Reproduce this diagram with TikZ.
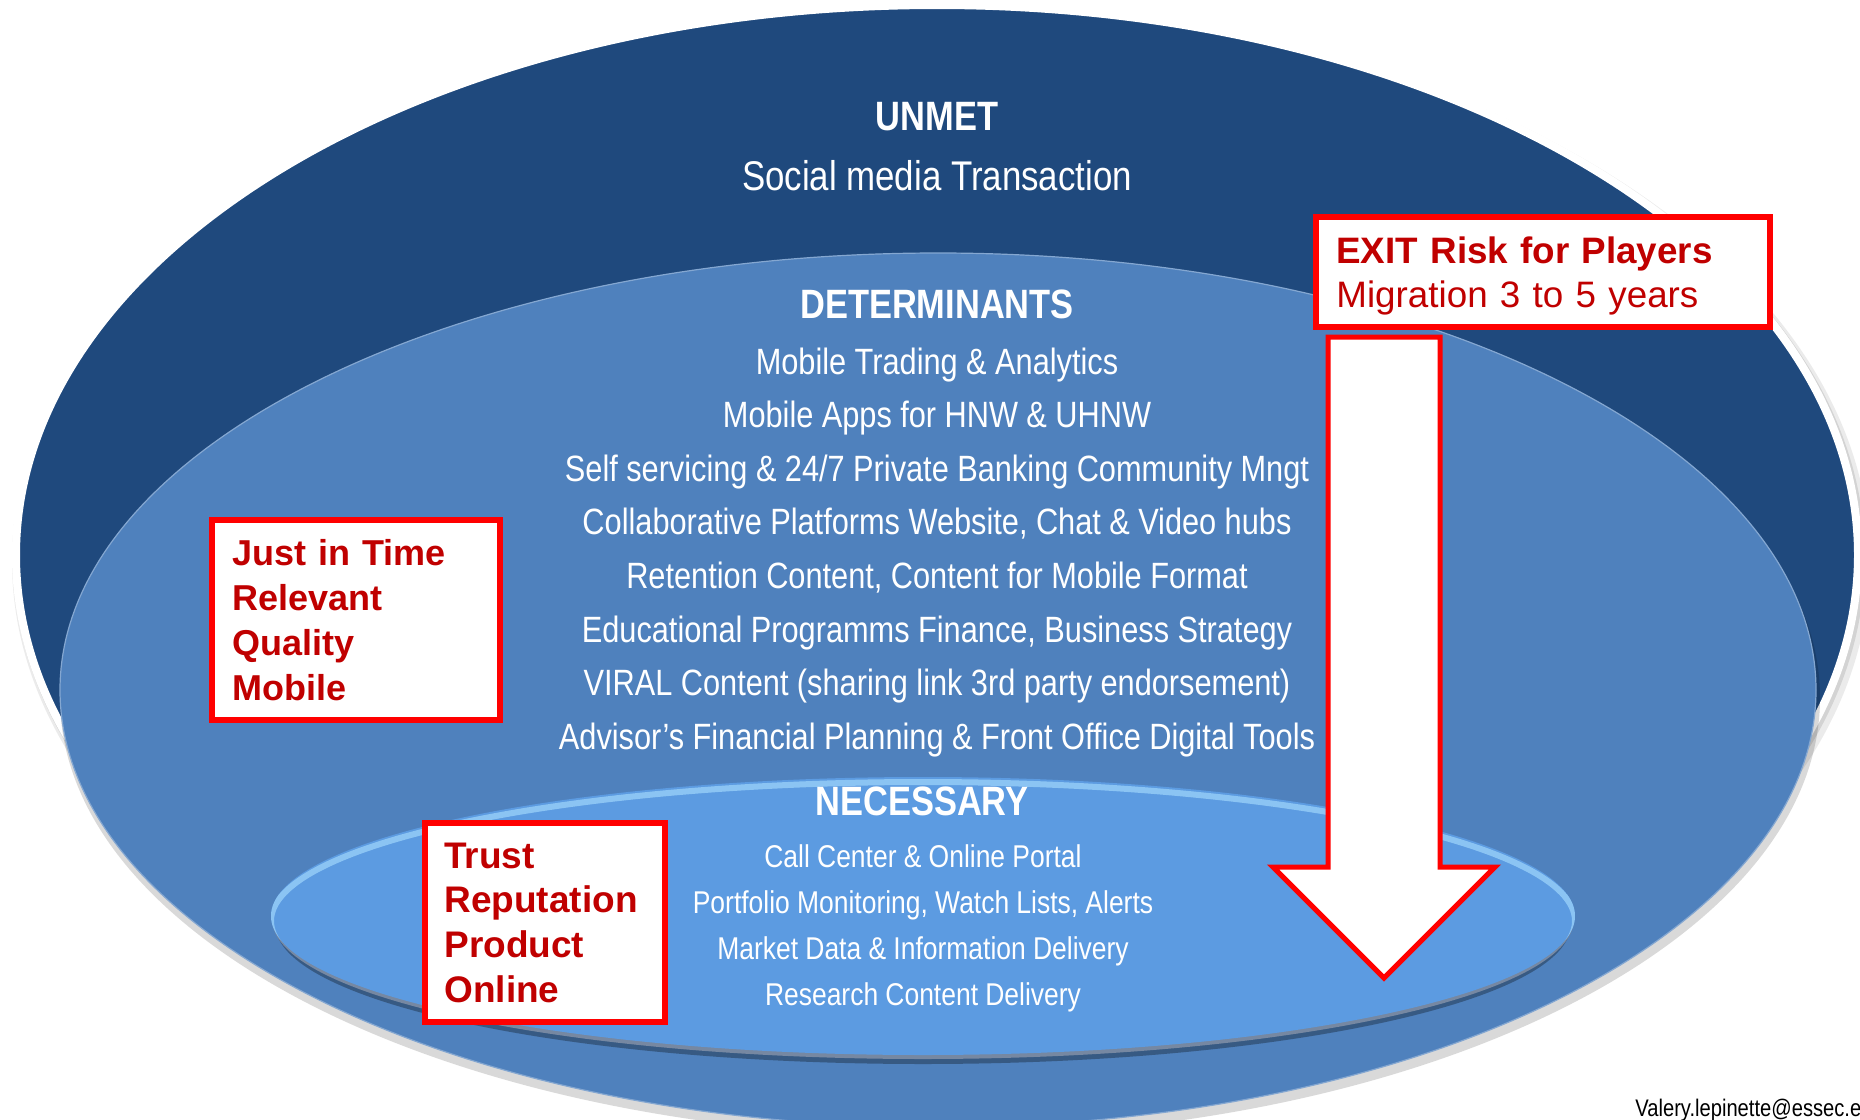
\documentclass[tikz,border=0pt]{standalone}
\usepackage{fontspec}
\setmainfont{Liberation Sans}
\newfontfamily\narrowfont[FakeStretch=0.84]{Liberation Sans}
\newcommand{\tightspace}{\spaceskip=0.23em\relax}
\usetikzlibrary{positioning}
\definecolor{unmetblue}{RGB}{31,73,125}
\definecolor{detblue}{RGB}{79,129,189}
\definecolor{necblue}{RGB}{92,155,225}
\definecolor{necrim}{RGB}{118,136,162}
\definecolor{necshine}{RGB}{160,214,252}
\definecolor{exitred}{RGB}{255,0,0}
\definecolor{wordred}{RGB}{192,0,0}
\tikzset{
  ttl/.style={text=white, inner sep=0pt, anchor=base, font=\narrowfont\bfseries\fontsize{20.5}{24}\selectfont},
  sub/.style={text=white, inner sep=0pt, anchor=base, font=\narrowfont\fontsize{20.75}{24}\selectfont\tightspace},
  item/.style={text=white, inner sep=0pt, anchor=base, align=center, text width=430pt},
  redbox/.style={draw=exitred, line width=3pt, fill=white, inner sep=0pt},
  redtxt/.style={text=wordred, inner sep=0pt, anchor=base west, align=left, text width=200pt},
  bigarrow/.style={draw=exitred, line width=2.5pt, fill=white, line join=miter}
}

\begin{document}
\begin{tikzpicture}[x=0.5pt, y=-0.5pt]
  \tikzset{shade/.style={fill=black, opacity=#1}};
  \def\unmetrx{921};
  \def\unmetry{550};
  \def\detrx{878};
  \def\detry{437};
  \def\necrx{652};
  \def\necry{139};

  \useasboundingbox (0,0) rectangle (1860,1120);
  \fill[white] (0,0) rectangle (1860,1120);

  % outer ring
  \fill[shade=0.08] (941,561) ellipse [x radius=\unmetrx+8, y radius=\unmetry+7];
  \fill[shade=0.10] (939,558) ellipse [x radius=\unmetrx+5, y radius=\unmetry+4];
  \draw[white, line width=4pt, fill=unmetblue] (937,555) ellipse [x radius=\unmetrx, y radius=\unmetry];

  % middle ring
  \fill[shade=0.15] (940,698) ellipse [x radius=\detrx+2, y radius=\detry+2];
  \draw[detblue!70!white, line width=0.6pt, fill=detblue] (938,690) ellipse [x radius=\detrx, y radius=\detry];

  % inner ring
  \fill[shade=0.30] (923,924) ellipse [x radius=\necrx-4, y radius=\necry+1];
  \fill[necrim] (923,919) ellipse [x radius=\necrx-1, y radius=\necry+1];
  \fill[necblue] (923,916) ellipse [x radius=\necrx, y radius=\necry];
  \begin{scope}
    \clip (923,916) ellipse [x radius=\necrx, y radius=\necry];
    \draw[necshine, line width=3pt, opacity=0.7] (923,921) ellipse [x radius=\necrx, y radius=\necry];
  \end{scope}

  \node[ttl] (unmet) at (937,130) {UNMET};
  \node[sub] (social) at (937,190) {Social media Transaction};

  \node[ttl] (determinants) at (937,318) {DETERMINANTS};
  \node[item, font=\narrowfont\fontsize{18.3}{26.8}\selectfont] (detlist) at (937,374) {\tightspace Mobile Trading \& Analytics\\ Mobile Apps for HNW \& UHNW\\ Self servicing \& 24/7 Private Banking Community Mngt\\ Collaborative Platforms Website, Chat \& Video hubs\\ Retention Content, Content for Mobile Format\\ Educational Programms Finance, Business Strategy\\ VIRAL Content (sharing link 3rd party endorsement)\\ Advisor’s Financial Planning \& Front Office Digital Tools};

  \node[ttl] (necessary) at (922,815) {NECESSARY};
  \node[item, font=\narrowfont\fontsize{15.75}{23.15}\selectfont] (neclist) at (923,867) {\tightspace Call Center \& Online Portal\\ Portfolio Monitoring, Watch Lists, Alerts\\ Market Data \& Information Delivery\\ Research Content Delivery};

  \node[redbox, minimum width=227pt, minimum height=55pt] (exitbox) at (1543,272) {};
  \node[redtxt, font=\fontsize{18.4}{22}\selectfont] (exittxt) at (1336,263) {\textbf{EXIT Risk for Players}\\ Migration 3 to 5 years};

  \node[redbox, minimum width=144pt, minimum height=100pt] (jitbox) at (356,620) {};
  \node[redtxt, font=\bfseries\fontsize{18}{22.5}\selectfont] (jittxt) at (232,565) {Just in Time\\ Relevant\\ Quality\\ Mobile};

  \node[redbox, minimum width=120pt, minimum height=99.5pt] (trustbox) at (545,922.5) {};
  \node[redtxt, font=\bfseries\fontsize{18.5}{22.35}\selectfont] (trusttxt) at (444,868) {Trust\\ Reputation\\ Product\\ Online};

  \draw[bigarrow] (1328,337) -- (1440,337) -- (1440,867) -- (1495,867) -- (1384,978) -- (1273,867) -- (1328,867) -- cycle;

  \node[anchor=base west, inner sep=0pt, font=\narrowfont\fontsize{12}{14}\selectfont] (email) at (1635,1116) {Valery.lepinette@essec.edu};

\end{tikzpicture}
\end{document}
